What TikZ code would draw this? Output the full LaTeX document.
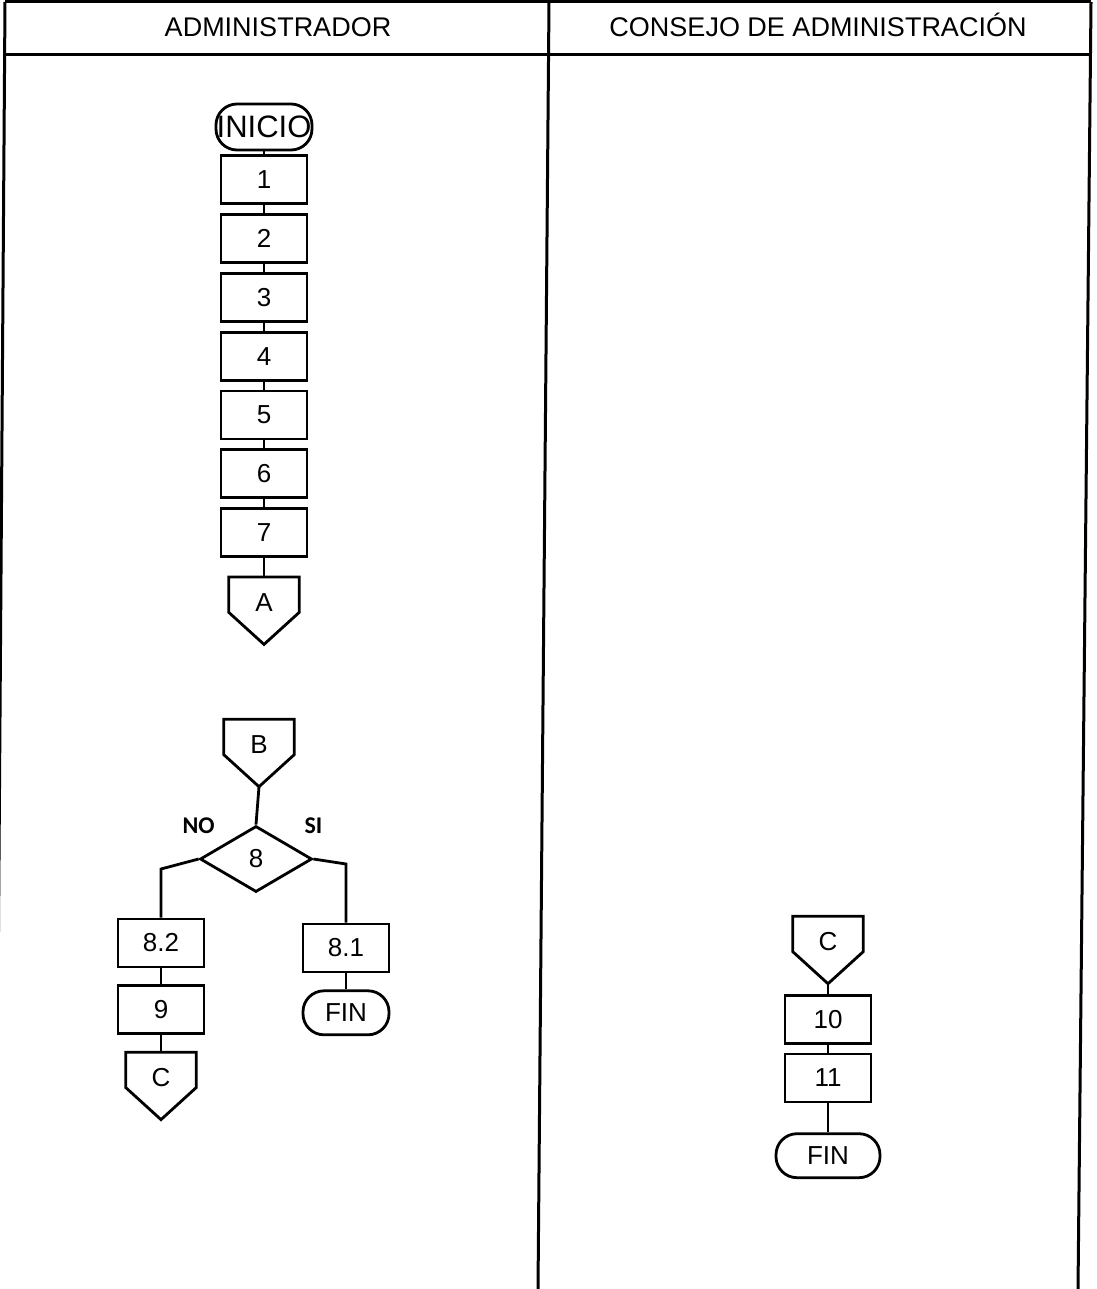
\documentclass[tikz,border=0pt]{standalone}
\usepackage{fontspec}
\setmainfont{Liberation Sans}
\newfontfamily\answerfont{Carlito}
\usepackage{tikz}
\usetikzlibrary{shapes,positioning,calc}

\begin{document}
\begin{tikzpicture}[
    x=1pt, y=-1pt,
    every node/.style={font=\fontsize{26}{30}\selectfont},
    lane/.style={line width=3pt},
    line/.style={line width=2.8pt},
    header/.style={font=\fontsize{27}{32}\selectfont, anchor=base},
    proc/.style={rectangle, draw, line width=2.8pt, minimum width=86pt, minimum height=48pt, inner sep=0pt},
    term/.style={rectangle, draw, line width=2.8pt, rounded corners=21pt, minimum width=86pt, minimum height=44pt, inner sep=0pt},
    offpage/.style={rectangle, minimum width=70pt, minimum height=35pt, inner sep=0pt, text height=33pt, text depth=0pt,
        append after command={\pgfextra{\draw[line] (\tikzlastnode.north west) -- (\tikzlastnode.north east)
            -- (\tikzlastnode.south east) -- ([yshift=-32pt]\tikzlastnode.south) -- (\tikzlastnode.south west) -- cycle;}}},
    decision/.style={diamond, draw, line width=2.8pt, minimum width=112pt, minimum height=66pt, inner sep=0pt},
    answer/.style={font=\answerfont\bfseries\fontsize{24}{28}\selectfont}
]
    \useasboundingbox (0,0) rectangle (1096,1289);

    % Lanes
    \draw[lane] (5,2) -- (1091,2);
    \draw[lane] (5,55) -- (1090,55);
    \draw[lane] (5,2) -- (-4,1289);
    \draw[lane] (549,2) -- (538,1289);
    \draw[lane] (1091,2) -- (1078,1289);
    \node[header] (admin) at (278,37) {ADMINISTRADOR};
    \node[header] (consejo) at (818,37) {CONSEJO DE ADMINISTRACIÓN};

    % Administrador, first part
    \node[term, minimum width=96pt, minimum height=46pt, font=\fontsize{31}{34}\selectfont] (inicio) at (264,127) {INICIO};
    \node[proc, below=3pt of inicio] (p1) {1};
    \node[proc, below=8pt of p1] (p2) {2};
    \node[proc, below=8pt of p2] (p3) {3};
    \node[proc, below=8pt of p3] (p4) {4};
    \node[proc, below=8pt of p4] (p5) {5};
    \node[proc, below=8pt of p5] (p6) {6};
    \node[proc, below=8pt of p6] (p7) {7};
    \node[offpage, below=19pt of p7] (conA) {A};

    % Administrador, second part
    \node[offpage] (conB) at (259,737) {B};
    \coordinate (tipB) at ([yshift=-32pt]conB.south);
    \node[decision] (dec) at (256,859) {8};
    \node[answer] (no) at ([yshift=33pt]dec.west) {NO};
    \node[answer] (si) at ([yshift=33pt]dec.east) {SI};
    \node[proc] (p82) at (161,943) {8.2};
    \node[proc, below=16pt of p82] (p9) {9};
    \node[offpage, below=17pt of p9] (conCa) {C};
    \node[proc] (p81) at (346,948) {8.1};
    \node[term, below=16pt of p81] (finA) {FIN};

    % Consejo de administracion
    \node[offpage] (conCb) at (828,934) {C};
    \coordinate (tipC) at ([yshift=-32pt]conCb.south);
    \node[proc, below=10pt of tipC] (p10) {10};
    \node[proc, below=8pt of p10] (p11) {11};
    \node[term, minimum width=104pt, below=29pt of p11] (finB) {FIN};

    % Lines
    \draw[line] (inicio) -- (p1);
    \draw[line] (p1) -- (p2);
    \draw[line] (p2) -- (p3);
    \draw[line] (p3) -- (p4);
    \draw[line] (p4) -- (p5);
    \draw[line] (p5) -- (p6);
    \draw[line] (p6) -- (p7);
    \draw[line] (p7) -- (conA);
    \draw[line] (tipB) -- (dec.north);
    \draw[line] (dec.west) -- ($(p82.north |- dec.west)+(0,10)$) -- (p82.north);
    \draw[line] (dec.east) -- ($(p81.north |- dec.east)+(0,5)$) -- (p81.north);
    \draw[line] (p82) -- (p9);
    \draw[line] (p9) -- (conCa);
    \draw[line] (p81) -- (finA);
    \draw[line] (tipC) -- (p10);
    \draw[line] (p10) -- (p11);
    \draw[line] (p11) -- (finB);
\end{tikzpicture}
\end{document}
